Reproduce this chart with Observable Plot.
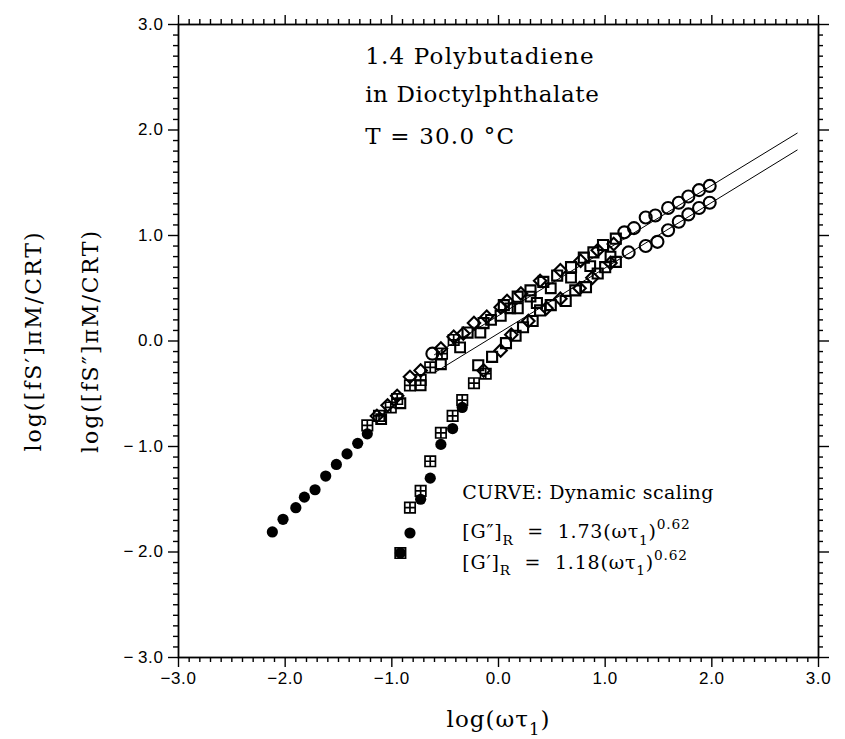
<!DOCTYPE html>
<html>
<head>
<meta charset="utf-8">
<script src="https://cdn.jsdelivr.net/npm/d3@7"></script>
<script src="https://cdn.jsdelivr.net/npm/@observablehq/plot@0.6"></script>
<style>
  html, body { margin: 0; padding: 0; background: #fff; }
</style>
</head>
<body>
<div id="chart"></div>
<script>
// ---------- data ----------
// axis ticks
const majorTicks = [-3, -2, -1, 0, 1, 2, 3];
const minorTicks = d3.range(-30, 31).filter(i => i % 10 !== 0).map(i => i / 10);

// G'' (upper) series
const gppFilledX = [-2.12, -2.02, -1.90, -1.82, -1.72, -1.62, -1.52, -1.42, -1.32, -1.23];
const gppFilledY = [-1.81, -1.69, -1.58, -1.48, -1.41, -1.28, -1.17, -1.07, -0.97, -0.88];
const gppCrossX = [-1.23, -1.12, -1.01, -0.95, -0.83, -0.73, -0.64, -0.53, -0.42];
const gppCrossY = [-0.80, -0.71, -0.63, -0.55, -0.42, -0.37, -0.25, -0.12, 0.01];
const gppSquareX = [-0.29, -0.14, 0.02, 0.18, 0.36, 0.05, 0.18, 0.30, 0.42, 0.55, 0.68, 0.80, 0.89, 0.98, 1.10];
const gppSquareY = [0.08, 0.17, 0.24, 0.31, 0.36, 0.34, 0.42, 0.48, 0.56, 0.62, 0.70, 0.79, 0.84, 0.91, 0.97];
const gppSquare2X = [-1.10, -0.92, -0.73, -0.54, -0.36, -0.17, -0.07, 0.11, 0.30, 0.49, 0.68, 0.86, 1.05];
const gppSquare2Y = [-0.74, -0.59, -0.42, -0.22, -0.06, 0.08, 0.20, 0.31, 0.42, 0.50, 0.60, 0.71, 0.80];
const gppDiamondX = [-1.14, -1.04, -0.95, -0.83, -0.73, -0.54, -0.42, -0.33, -0.23, -0.11, 0.02, 0.08, 0.21, 0.39, 0.58, 0.77, 0.93, 1.08];
const gppDiamondY = [-0.71, -0.61, -0.52, -0.34, -0.28, -0.07, 0.04, 0.07, 0.17, 0.23, 0.32, 0.38, 0.45, 0.57, 0.67, 0.76, 0.86, 0.92];
const gppCircleX = [-0.62, 1.18, 1.27, 1.38, 1.47, 1.59, 1.69, 1.78, 1.88, 1.98];
const gppCircleY = [-0.12, 1.03, 1.07, 1.17, 1.19, 1.26, 1.31, 1.37, 1.43, 1.47];

// G' (lower) series
const gpFilledX = [-0.92, -0.83, -0.73, -0.64, -0.54, -0.43, -0.34];
const gpFilledY = [-2.01, -1.82, -1.50, -1.30, -0.98, -0.83, -0.63];
const gpCrossX = [-0.92, -0.83, -0.73, -0.64, -0.54, -0.43, -0.34, -0.23, -0.12];
const gpCrossY = [-2.01, -1.58, -1.42, -1.14, -0.87, -0.71, -0.56, -0.40, -0.31];
const gpSquareX = [-0.19, -0.06, 0.07, 0.16, 0.23, 0.32, 0.39, 0.49, 0.63, 0.72, 0.82, 0.93, 1.00, 1.10];
const gpSquareY = [-0.23, -0.15, -0.02, 0.05, 0.13, 0.19, 0.29, 0.34, 0.38, 0.48, 0.51, 0.64, 0.70, 0.75];
const gpDiamondX = [-0.14, 0.02, 0.12, 0.28, 0.45, 0.58, 0.76, 0.88, 1.05];
const gpDiamondY = [-0.28, -0.09, 0.06, 0.19, 0.31, 0.40, 0.50, 0.60, 0.74];
const gpCircleX = [1.22, 1.38, 1.49, 1.59, 1.69, 1.78, 1.88, 1.98];
const gpCircleY = [0.84, 0.90, 0.94, 1.05, 1.13, 1.20, 1.26, 1.31];

// dynamic-scaling curves (end points)
const fitX = [-0.6, 2.8];
const fitUpperY = [-0.13, 1.97];
const fitLowerY = [-0.30, 1.81];

// texts
const xTitle = "log(ωτ_{1})";
const yTitleOuter = "log([fS′]πM/CRT)";
const yTitleInner = "log([fS″]πM/CRT)";
const noteTop = ["1.4 Polybutadiene", "in Dioctylphthalate", "T = 30.0 °C"];
const noteTopY = [2.70, 2.34, 1.94];
const noteBottom = ["CURVE: Dynamic scaling",
  "[G″]_{R}\u00a0 =\u00a0 1.73(ωτ_{1})^{0.62}",
  "[G′]_{R}\u00a0 =\u00a0 1.18(ωτ_{1})^{0.62}"];
const noteBottomY = [-1.44, -1.81, -2.10];

// ---------- helpers ----------
const pts = (xs, ys) => xs.map((x, i) => ({x, y: ys[i]}));
const squarePlus = {
  draw(context, size) {
    const r = Math.sqrt(size / Math.PI);
    const h = r * 0.9;
    context.moveTo(-h, -h); context.lineTo(h, -h); context.lineTo(h, h); context.lineTo(-h, h); context.closePath();
    context.moveTo(0, -h); context.lineTo(0, h);
    context.moveTo(-h, 0); context.lineTo(h, 0);
  }
};
const fmtX = d => (d < 0 ? "−" : "") + Math.abs(d).toFixed(1);
const fmtY = d => (d < 0 ? "−\u2009" : "") + Math.abs(d).toFixed(1);
const blank = () => "";
const serif = "DejaVu Serif, serif";
const sans = "Liberation Sans, Arial, sans-serif";
const W = 845, H = 739, ML = 178, MR = 27, MT = 24, MB = 82;
const PW = W - ML - MR, PH = H - MT - MB;
const minorLen = 5;
const minorStyle = {stroke: "black", strokeWidth: 1.4};

const openStyle = {x: "x", y: "y", fill: "none", stroke: "black", strokeWidth: 2.1};

const chart = Plot.plot({
  width: W,
  height: H,
  marginLeft: ML,
  marginRight: MR,
  marginTop: MT,
  marginBottom: MB,
  x: {domain: [-3, 3], axis: null},
  y: {domain: [-3, 3], axis: null},
  style: {background: "white", color: "black", fontFamily: sans, fontSize: "17px"},
  marks: [
    // major ticks + labels
    Plot.axisX({anchor: "bottom", ticks: majorTicks, tickSize: 10, tickPadding: 4, tickFormat: fmtX, label: null, fontSize: 17, fontFamily: sans, strokeWidth: 1.4}),
    Plot.axisX({anchor: "top", ticks: majorTicks, tickSize: 10, tickFormat: blank, label: null, strokeWidth: 1.4}),
    Plot.axisY({anchor: "left", ticks: majorTicks, tickSize: 10, tickPadding: 5, tickFormat: fmtY, label: null, fontSize: 17, fontFamily: sans, strokeWidth: 1.4}),
    Plot.axisY({anchor: "right", ticks: majorTicks, tickSize: 10, tickFormat: blank, label: null, strokeWidth: 1.4}),
    // minor ticks (outward, on all four sides)
    Plot.tickX(minorTicks, {x: d => d, ...minorStyle, insetTop: -minorLen, insetBottom: PH}),
    Plot.tickX(minorTicks, {x: d => d, ...minorStyle, insetTop: PH, insetBottom: -minorLen}),
    Plot.tickY(minorTicks, {y: d => d, ...minorStyle, insetLeft: -minorLen, insetRight: PW}),
    Plot.tickY(minorTicks, {y: d => d, ...minorStyle, insetLeft: PW, insetRight: -minorLen}),
    Plot.frame({stroke: "black", strokeWidth: 1.8}),

    // fit curves
    Plot.line(pts(fitX, fitUpperY), {x: "x", y: "y", stroke: "black", strokeWidth: 1}),
    Plot.line(pts(fitX, fitLowerY), {x: "x", y: "y", stroke: "black", strokeWidth: 1}),

    // G'' data
    Plot.dot(pts(gppDiamondX, gppDiamondY), {...openStyle, symbol: "diamond2", r: 5.6}),
    Plot.dot(pts(gppSquare2X, gppSquare2Y), {...openStyle, symbol: "square2", r: 6.2}),
    Plot.dot(pts(gppSquareX, gppSquareY), {...openStyle, symbol: "square2", r: 6.4}),
    Plot.dot(pts(gppCrossX, gppCrossY), {...openStyle, symbol: squarePlus, r: 5.8, strokeWidth: 1.7}),
    Plot.dot(pts(gppCircleX, gppCircleY), {...openStyle, symbol: "circle", r: 6}),
    Plot.dot(pts(gppFilledX, gppFilledY), {x: "x", y: "y", fill: "black", r: 5.6}),

    // G' data
    Plot.dot(pts(gpDiamondX, gpDiamondY), {...openStyle, symbol: "diamond2", r: 5.6}),
    Plot.dot(pts(gpSquareX, gpSquareY), {...openStyle, symbol: "square2", r: 6.4}),
    Plot.dot(pts(gpCircleX, gpCircleY), {...openStyle, symbol: "circle", r: 6}),
    Plot.dot(pts(gpFilledX, gpFilledY), {x: "x", y: "y", fill: "black", r: 5.6}),
    Plot.dot(pts(gpCrossX, gpCrossY), {...openStyle, symbol: squarePlus, r: 5.8, strokeWidth: 1.7}),

    // annotations
    Plot.text(noteTop, {x: () => -1.25, y: (d, i) => noteTopY[i], text: d => d, textAnchor: "start", fontFamily: serif, fontSize: 23}),
    Plot.text(noteBottom.slice(0, 1), {x: () => -0.34, y: (d, i) => noteBottomY[i], text: d => d, textAnchor: "start", fontFamily: serif, fontSize: 19}),
    Plot.text(noteBottom.slice(1), {x: () => -0.34, y: (d, i) => noteBottomY[i + 1], text: d => d, textAnchor: "start", fontFamily: serif, fontSize: 19}),

    // axis titles
    Plot.text([xTitle], {frameAnchor: "bottom", dy: 62, lineAnchor: "middle", textAnchor: "middle", text: d => d, fontFamily: serif, fontSize: 23}),
    Plot.text([yTitleOuter], {frameAnchor: "left", dx: -145, rotate: -90, textAnchor: "middle", lineAnchor: "middle", text: d => d, fontFamily: serif, fontSize: 22}),
    Plot.text([yTitleInner], {frameAnchor: "left", dx: -88, rotate: -90, textAnchor: "middle", lineAnchor: "middle", text: d => d, fontFamily: serif, fontSize: 22})
  ]
});

// letter spacing to match the wide face of the original
const spacing = new Map([
  [yTitleOuter, "2px"], [yTitleInner, "2px"],
  [noteTop[0], "1.2px"], [noteTop[1], "0.6px"], [noteTop[2], "1.2px"],
  [noteBottom[0], "0.4px"], [noteBottom[1], "0.8px"], [noteBottom[2], "0.8px"],
  [xTitle, "1px"]
]);
d3.select(chart).selectAll("text").each(function() {
  const s = spacing.get(this.textContent);
  if (s) d3.select(this).style("letter-spacing", s);
});
d3.select(chart).selectAll('g[aria-label$="tick label"] text').style("letter-spacing", "0.6px");

// turn _{..} and ^{..} into sub/superscript tspans
function richText(svg) {
  d3.select(svg).selectAll("text").each(function() {
    const s = this.textContent;
    if (!/[_^]\{/.test(s)) return;
    const el = d3.select(this);
    el.text(null);
    let shift = 0;
    const re = /([_^])\{([^}]*)\}|([^_^]+)/g;
    let m;
    while ((m = re.exec(s))) {
      if (m[3] !== undefined) {
        const t = el.append("tspan").text(m[3]);
        if (shift) t.attr("dy", `${-shift}em`);
        shift = 0;
      } else {
        const target = m[1] === "_" ? 0.34 : -0.45;
        const d = target - shift;
        el.append("tspan").attr("font-size", "72%").attr("dy", `${d / 0.72}em`).text(m[2]);
        shift = target;
      }
    }
  });
}
richText(chart);
document.getElementById("chart").appendChild(chart);
</script>
</body>
</html>
